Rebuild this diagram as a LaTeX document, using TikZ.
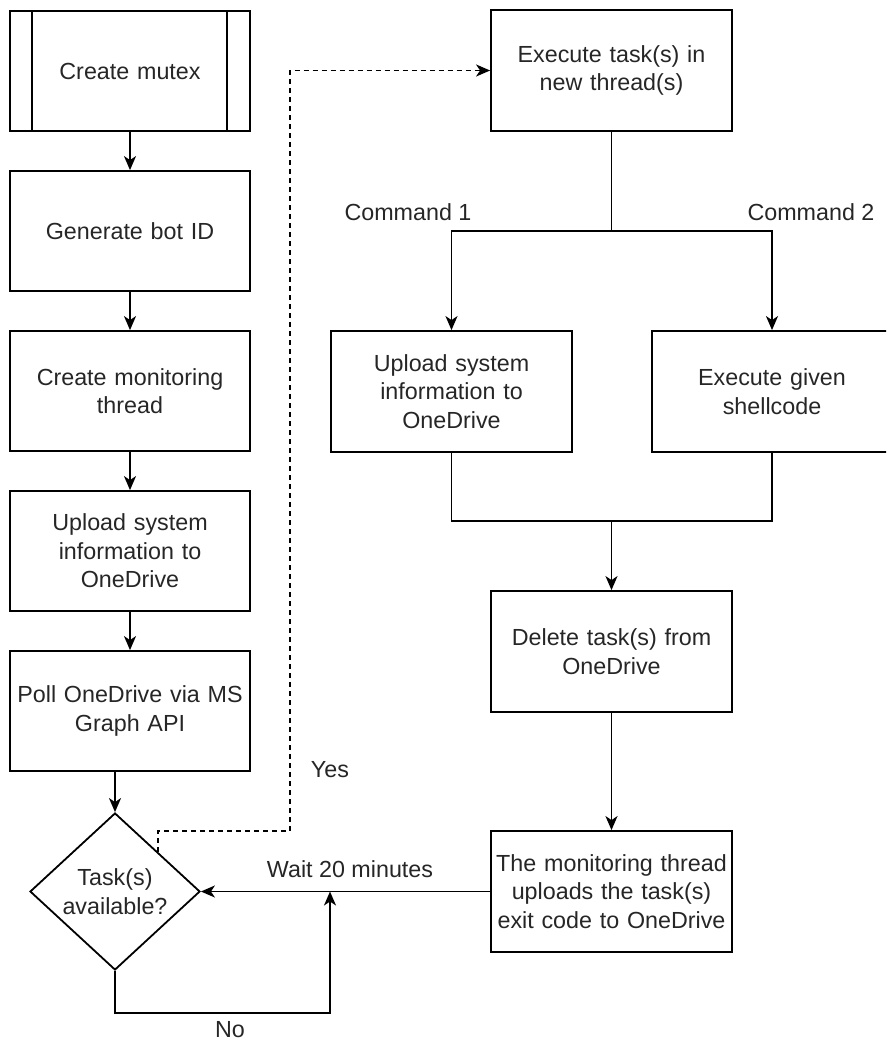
\documentclass[tikz,border=0pt]{standalone}
\usepackage{fontspec}
\setmainfont{Liberation Sans}
\usetikzlibrary{shapes.geometric,arrows.meta,calc}
\newcommand\dfont{\fontsize{23.3}{28.5}\selectfont}
\begin{document}
\begin{tikzpicture}[x=1pt,y=-1pt,
  box/.style={draw, line width=1.8pt, minimum width=240pt, minimum height=120pt,
    align=center, inner sep=2pt, font=\dfont, text width=232pt, text=black!85},
  rbox/.style={box, minimum width=241pt, minimum height=121pt, text width=236pt},
  decision/.style={draw, line width=1.8pt, diamond, aspect=1.083, inner sep=0pt,
    minimum width=170pt, minimum height=157pt, align=center, font=\dfont, text=black!85},
  lbl/.style={font=\dfont, inner sep=0pt, text=black!85},
  conn/.style={line width=1.8pt},
  arr/.style={conn, -{Stealth[length=14pt,width=12pt,inset=4pt]}},
  dashedarr/.style={arr, dash pattern=on 5pt off 4pt}
]
\useasboundingbox (0,0) rectangle (886,1043);
\clip (0,0) rectangle (886,1043);

% left column
\node[box] (mutex) at (130,71) {Create mutex};
\draw[conn] ($(mutex.north west)+(23,0)$) -- ($(mutex.south west)+(23,0)$);
\draw[conn] ($(mutex.north east)+(-24,0)$) -- ($(mutex.south east)+(-24,0)$);
\node[box] (botid) at (130,231) {Generate bot ID};
\node[box] (monthr) at (130,391) {Create monitoring\\thread};
\node[box] (upl) at (130,551) {Upload system\\information to\\OneDrive};
\node[box] (poll) at (130,711) {Poll OneDrive via MS\\Graph API};
\node[decision] (dia) at (115,891.5) {Task(s)\\available?};

% right column
\node[rbox] (exe) at (611.5,70.5) {Execute task(s) in\\new thread(s)};
\node[rbox] (up2) at (451.5,391.5) {Upload system\\information to\\OneDrive};
\node[box, minimum height=121pt] (sc) at (772,391.5) {Execute given\\shellcode};
\node[rbox] (del) at (611.5,651.5) {Delete task(s) from\\OneDrive};
\node[rbox] (mt) at (611.5,891.5) {The monitoring thread\\uploads the task(s)\\exit code to OneDrive};

% labels
\node[lbl] (c1) at (408,212) {Command 1};
\node[lbl] (c2) at (811,212) {Command 2};
\node[lbl] (yes) at (330,770) {Yes};
\node[lbl] (wait) at (350,869) {Wait 20 minutes};
\node[lbl] (no) at (230,1030) {No};

% coordinates
\coordinate (split) at (611.5,231);
\coordinate (merge) at (611.5,521);
\coordinate (nojoin) at (330,891.5);
\coordinate (ycorner) at (290,831);
\coordinate (ystart) at ($(dia.north)!0.5!(dia.east)$);

% left connectors
\draw[arr] (mutex) -- (botid);
\draw[arr] (botid) -- (monthr);
\draw[arr] (monthr) -- (upl);
\draw[arr] (upl) -- (poll);
\draw[arr] (poll.south -| dia.north) -- (dia.north);

% right connectors
\draw[conn] (exe.south) -- (split);
\draw[arr] (split) -| (up2.north);
\draw[arr] (split) -| (sc.north);
\draw[conn] (up2.south) |- (merge);
\draw[conn] (sc.south) |- (merge);
\draw[arr] (merge) -- (del.north);
\draw[arr] (del) -- (mt);
\draw[arr] (mt.west) -- (dia.east);

% no loop
\draw[arr] (dia.south) -- ++(0,42) -| (nojoin);

% yes dashed
\draw[dashedarr] (ystart) |- (ycorner) -- (ycorner |- exe.west) -- (exe.west);
\end{tikzpicture}
\end{document}
